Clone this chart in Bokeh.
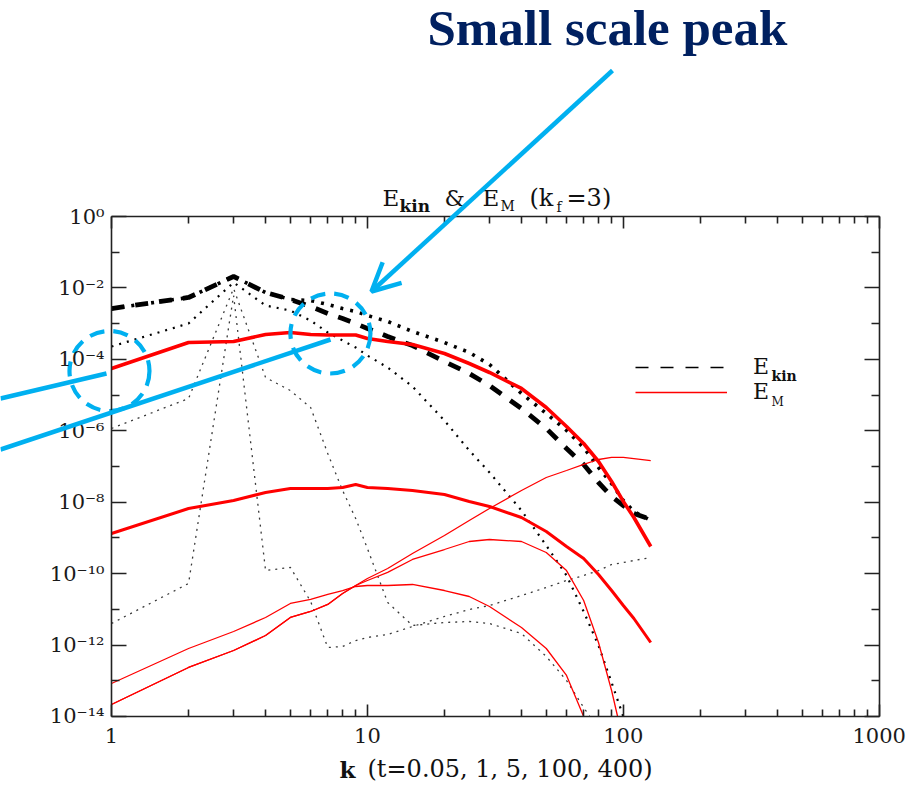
from bokeh.plotting import figure
from bokeh.models import (LogAxis, FixedTicker, CustomJSTickFormatter, Range1d, Label,
                          Arrow, OpenHead, Legend, LegendItem)
from bokeh.embed import file_html
from bokeh.resources import INLINE

# ---------------- data ----------------
k = [1, 2, 3, 4, 5, 6, 7, 8, 9, 10, 12, 15, 20, 25, 30, 40, 50, 60, 70, 80, 90, 100, 110, 128]

# magnetic spectra
em_t400 = [5.55e-5, 2.96e-4, 3.16e-4, 4.97e-4, 5.65e-4, 4.97e-4, 4.8e-4, 4.8e-4, 4.8e-4, 3.84e-4,
           3.16e-4, 2.61e-4, 1.46e-4, 7.66e-5, 4.29e-5, 1.53e-5, 4.49e-6, 1.32e-6, 4.41e-7, 1.38e-7,
           3.80e-8, 1.05e-8, 3.73e-9, 5.75e-10]
em_t100 = [1.33e-9, 6.67e-9, 1.12e-8, 1.87e-8, 2.42e-8, 2.42e-8, 2.42e-8, 2.58e-8, 3.13e-8, 2.58e-8,
           2.42e-8, 2.13e-8, 1.64e-8, 1.05e-8, 7.59e-9, 3.73e-9, 1.51e-9, 5.75e-10, 2.65e-10, 9.46e-11,
           3.37e-11, 1.28e-11, 5.55e-12, 1.18e-12]
em_t5 = [2.17e-14, 2.36e-13, 7.05e-13, 1.85e-12, 5.92e-12, 8.71e-12, 1.37e-11, 2.78e-11, 4.66e-11,
         7.31e-11, 1.39e-10, 3.66e-10, 1.17e-9, 3.08e-9, 6.67e-9, 2.13e-8, 4.92e-8, 7.73e-8, 1.14e-7,
         1.57e-7, 1.79e-7, 1.79e-7, 1.67e-7, 1.47e-7]
k_em_t1 = [1, 2, 3, 4, 5, 6, 7, 8, 9, 10, 12, 15, 20, 25, 30, 40, 50, 60, 70, 80, 90, 95]
em_t1 = [2.17e-14, 2.36e-13, 7.05e-13, 1.85e-12, 5.92e-12, 8.71e-12, 1.37e-11, 2.78e-11, 4.66e-11,
         6.43e-11, 1.08e-10, 2.49e-10, 4.74e-10, 7.94e-10, 9.04e-10, 7.94e-10, 3.91e-10, 1.22e-10,
         1.77e-11, 1.18e-12, 5.35e-14, 1.0e-14]
k_em_t005 = [1, 2, 3, 4, 5, 6, 7, 8, 9, 10, 12, 15, 20, 25, 30, 40, 50, 60, 70]
em_t005 = [8.39e-14, 8.02e-13, 2.40e-12, 5.92e-12, 1.46e-11, 1.89e-11, 2.61e-11, 3.37e-11, 4.37e-11,
           4.66e-11, 4.66e-11, 4.97e-11, 3.37e-11, 2.29e-11, 1.20e-11, 3.10e-12, 8.02e-13, 1.41e-13,
           1.0e-14]

# kinetic spectra
ek_t400 = [2.65e-3, 5.40e-3, 2.09e-2, 7.45e-3, 4.74e-3, 3.02e-3, 1.92e-3, 1.39e-3, 1.01e-3, 7.31e-4,
           4.37e-4, 2.44e-4, 8.71e-5, 4.02e-5, 1.85e-5, 4.21e-6, 1.16e-6, 3.19e-7, 1.14e-7, 3.56e-8,
           1.45e-8, 8.09e-9, 4.83e-9, 3.28e-9]
ek_t100 = [2.65e-3, 5.40e-3, 2.09e-2, 7.45e-3, 4.74e-3, 4.45e-3, 3.44e-3, 2.65e-3, 2.19e-3, 1.69e-3,
           1.15e-3, 6.03e-4, 2.96e-4, 1.56e-4, 7.18e-5, 1.11e-5, 3.05e-6, 1.02e-6, 3.40e-7, 9.38e-8,
           3.34e-8, 1.12e-8, 5.50e-9, 3.08e-9]
k_ek_t5 = [1, 2, 3, 4, 5, 6, 7, 8, 9, 10, 12, 15, 20, 25, 30, 40, 50, 60, 70, 80, 90, 100]
ek_t5 = [2.29e-4, 1.01e-3, 1.42e-2, 3.22e-3, 2.33e-3, 1.22e-3, 5.65e-4, 3.37e-4, 2.15e-4, 1.28e-4,
         5.92e-5, 1.74e-5, 1.94e-6, 2.81e-7, 6.79e-8, 5.86e-9, 6.14e-10, 8.87e-11, 8.71e-12,
         9.72e-13, 8.95e-14, 1.0e-14]
k_ek_t1 = [1, 2, 3, 4, 5, 6, 7, 8, 9, 10, 12, 15, 20, 25, 30, 40, 50, 60, 70, 74]
ek_t1 = [1.16e-6, 8.02e-6, 9.64e-3, 3.10e-5, 1.34e-5, 4.49e-6, 2.31e-7, 2.13e-8, 3.50e-9, 5.06e-10,
         1.56e-11, 3.53e-12, 4.29e-12, 4.57e-12, 4.02e-12, 2.11e-12, 4.79e-13, 1.02e-13, 1.79e-14,
         1.0e-14]
ek_t005 = [4.02e-12, 5.30e-11, 6.14e-3, 1.22e-10, 1.49e-10, 1.66e-11, 8.55e-13, 9.12e-13, 1.34e-12,
           1.63e-12, 1.98e-12, 3.31e-12, 6.31e-12, 9.91e-12, 1.28e-11, 2.44e-11, 4.09e-11, 6.43e-11,
           8.87e-11, 1.22e-10, 1.80e-10, 2.05e-10, 2.33e-10, 2.83e-10]

# highlighted spots (dashed blue circles)
circle_k = [7.17, 0.982]
circle_E = [5.3e-4, 4.72e-5]

x_ticks = [1, 10, 100, 1000]
x_minor = [2, 3, 4, 5, 6, 7, 8, 9, 20, 30, 40, 50, 60, 70, 80, 90,
           200, 300, 400, 500, 600, 700, 800, 900]
y_ticks = [1e0, 1e-2, 1e-4, 1e-6, 1e-8, 1e-10, 1e-12, 1e-14]
y_minor = [1e-1, 1e-3, 1e-5, 1e-7, 1e-9, 1e-11, 1e-13]

title_parts = ["E", "kin", "&", "E", "M", "(k", "f", "=3)"]
xlabel_parts = ["k", "(t=0.05, 1, 5, 100, 400)"]
legend_labels = ["E", "E"]
legend_subs = ["kin", "M"]
note_text = "Small scale peak"

# ---------------- layout ----------------
W, H = 922, 793
PX_X0, PX_DEC_X = 111.0, 255.9     # pixel of k=1, pixels per decade
PX_Y0, PX_DEC_Y = 216.0, 35.714    # pixel of E=1, pixels per decade
BLUE = "#00B0F0"
SERIF = "DejaVu Serif"
NAN = float("nan")

x_lo = 10 ** (-PX_X0 / PX_DEC_X)
x_hi = 10 ** ((W - PX_X0) / PX_DEC_X)
y_hi = 10 ** (PX_Y0 / PX_DEC_Y)
y_lo = 10 ** (-(H - PX_Y0) / PX_DEC_Y)

p = figure(width=W, height=H, x_axis_type="log", y_axis_type="log",
           x_range=Range1d(x_lo, x_hi), y_range=Range1d(y_lo, y_hi),
           x_axis_location=None, y_axis_location=None,
           toolbar_location=None, output_backend="svg", min_border=0)
p.outline_line_color = None
p.background_fill_color = "white"
p.border_fill_color = "white"
p.xgrid.visible = False
p.ygrid.visible = False

sup_js = r"""
const e = Math.round(Math.log10(tick));
const m = {"-":"\u207b","0":"\u2070","1":"\u00b9","2":"\u00b2","3":"\u00b3","4":"\u2074",
           "5":"\u2075","6":"\u2076","7":"\u2077","8":"\u2078","9":"\u2079"};
let s = "";
for (const c of String(e)) { s += m[c]; }
return "10" + s;
"""
fmt_y = CustomJSTickFormatter(code=sup_js)
fmt_x = CustomJSTickFormatter(code="return String(Math.round(tick));")
fmt_none = CustomJSTickFormatter(code="return '';")


def make_axis(fixed, bounds, ticks, minor, fmt, maj, mnr, standoff):
    return LogAxis(fixed_location=fixed, bounds=bounds,
                   ticker=FixedTicker(ticks=ticks, minor_ticks=minor), formatter=fmt,
                   axis_line_color="#222222", axis_line_width=1.6,
                   major_tick_line_color="#222222", major_tick_line_width=1.6,
                   minor_tick_line_color="#222222", minor_tick_line_width=1.6,
                   major_tick_in=maj, major_tick_out=0, minor_tick_in=mnr, minor_tick_out=0,
                   major_label_standoff=standoff,
                   major_label_text_font=SERIF, major_label_text_font_size="21px",
                   major_label_text_color="#1a1a1a")


p.add_layout(make_axis(y_ticks[-1], (1, 1000), x_ticks, x_minor, fmt_x, 12, 7, 12), "below")
p.add_layout(make_axis(y_ticks[0], (1, 1000), x_ticks, x_minor, fmt_none, 12, 7, 4), "above")
p.add_layout(make_axis(x_ticks[0], (y_ticks[-1], y_ticks[0]), y_ticks, y_minor, fmt_y, 15, 8, 7), "left")
p.add_layout(make_axis(x_ticks[-1], (y_ticks[-1], y_ticks[0]), y_ticks, y_minor, fmt_none, 15, 8, 4), "right")

# ---------------- curves ----------------
GREY = "#3a3a3a"
p.line(k, ek_t005, line_color=GREY, line_width=1.3, line_dash="2 5")
p.line(k_ek_t1, ek_t1, line_color=GREY, line_width=1.3, line_dash="2 5")
p.line(k_ek_t5, ek_t5, line_color="black", line_width=2.2, line_dash="2 6")
p.line(k, ek_t100, line_color="black", line_width=3.6, line_dash="3 7")
p.line(k, ek_t400, line_color="black", line_width=4.8, line_dash="13 11")

p.line(k_em_t005, em_t005, line_color="red", line_width=1.3)
p.line(k_em_t1, em_t1, line_color="red", line_width=1.3)
p.line(k, em_t5, line_color="red", line_width=1.3)
p.line(k, em_t100, line_color="red", line_width=3.0)
p.line(k, em_t400, line_color="red", line_width=3.6)

# ---------------- legend (glyph-only dummy renderers, no visible data) ----------------
r_leg_kin = p.line(x=[NAN], y=[NAN], line_color="black", line_width=1.6, line_dash="13 12")
r_leg_m = p.line(x=[NAN], y=[NAN], line_color="red", line_width=1.3)
legend = Legend(items=[LegendItem(label=legend_labels[0], renderers=[r_leg_kin]),
                       LegendItem(label=legend_labels[1], renderers=[r_leg_m])],
                location=(635, H - 404), orientation="vertical",
                glyph_width=92, glyph_height=24, label_height=24, label_width=20,
                label_standoff=26, spacing=0, padding=0, margin=0,
                border_line_color=None, background_fill_alpha=0,
                label_text_font=SERIF, label_text_font_size="22px", label_text_color="#111111")
p.add_layout(legend)

BASE_SHIFT = 0.4   # measured offset of Bokeh's alphabetic baseline, in em


def lab(x, y_base, text, size, bold=False, font=SERIF, color="#111111"):
    y_top = y_base - BASE_SHIFT * size
    p.add_layout(Label(x=x, y=H - y_top, x_units="screen", y_units="screen", text=text,
                       text_font=font, text_font_size=f"{size}px", text_color=color,
                       text_font_style="bold" if bold else "normal",
                       text_baseline="alphabetic", text_align="left"))


lab(771, 381, legend_subs[0], 14, bold=True)
lab(771, 406, legend_subs[1], 12)

# title
lab(382, 207, title_parts[0], 23)
lab(399, 212, title_parts[1], 17, bold=True)
lab(444, 207, title_parts[2], 23)
lab(482, 207, title_parts[3], 23)
lab(500, 211, title_parts[4], 14)
lab(529, 207, title_parts[5], 24)
lab(556, 212, title_parts[6], 14)
lab(566, 207, title_parts[7], 24)

# x label
lab(339, 778, xlabel_parts[0], 23, bold=True)
lab(367, 778, xlabel_parts[1], 24)

# annotation text
lab(427, 48, note_text, 51, bold=True, font="Liberation Serif", color="#002060")

# ---------------- blue annotations ----------------
p.add_layout(Arrow(end=OpenHead(size=28, line_color=BLUE, line_width=4.5),
                   x_start=612, y_start=H - 70, x_end=371, y_end=H - 291,
                   start_units="screen", end_units="screen",
                   line_color=BLUE, line_width=4.5))
p.add_layout(Arrow(end=None, x_start=0, y_start=H - 398, x_end=106, y_end=H - 373,
                   start_units="screen", end_units="screen",
                   line_color=BLUE, line_width=4.5))
p.add_layout(Arrow(end=None, x_start=0, y_start=H - 449, x_end=330, y_end=H - 339,
                   start_units="screen", end_units="screen",
                   line_color=BLUE, line_width=4.5))
p.scatter(circle_k, circle_E, marker="circle", size=80, fill_color=None,
          line_color=BLUE, line_width=4.2, line_dash="15 9")

open("out.html", "w").write(file_html(p, INLINE))
